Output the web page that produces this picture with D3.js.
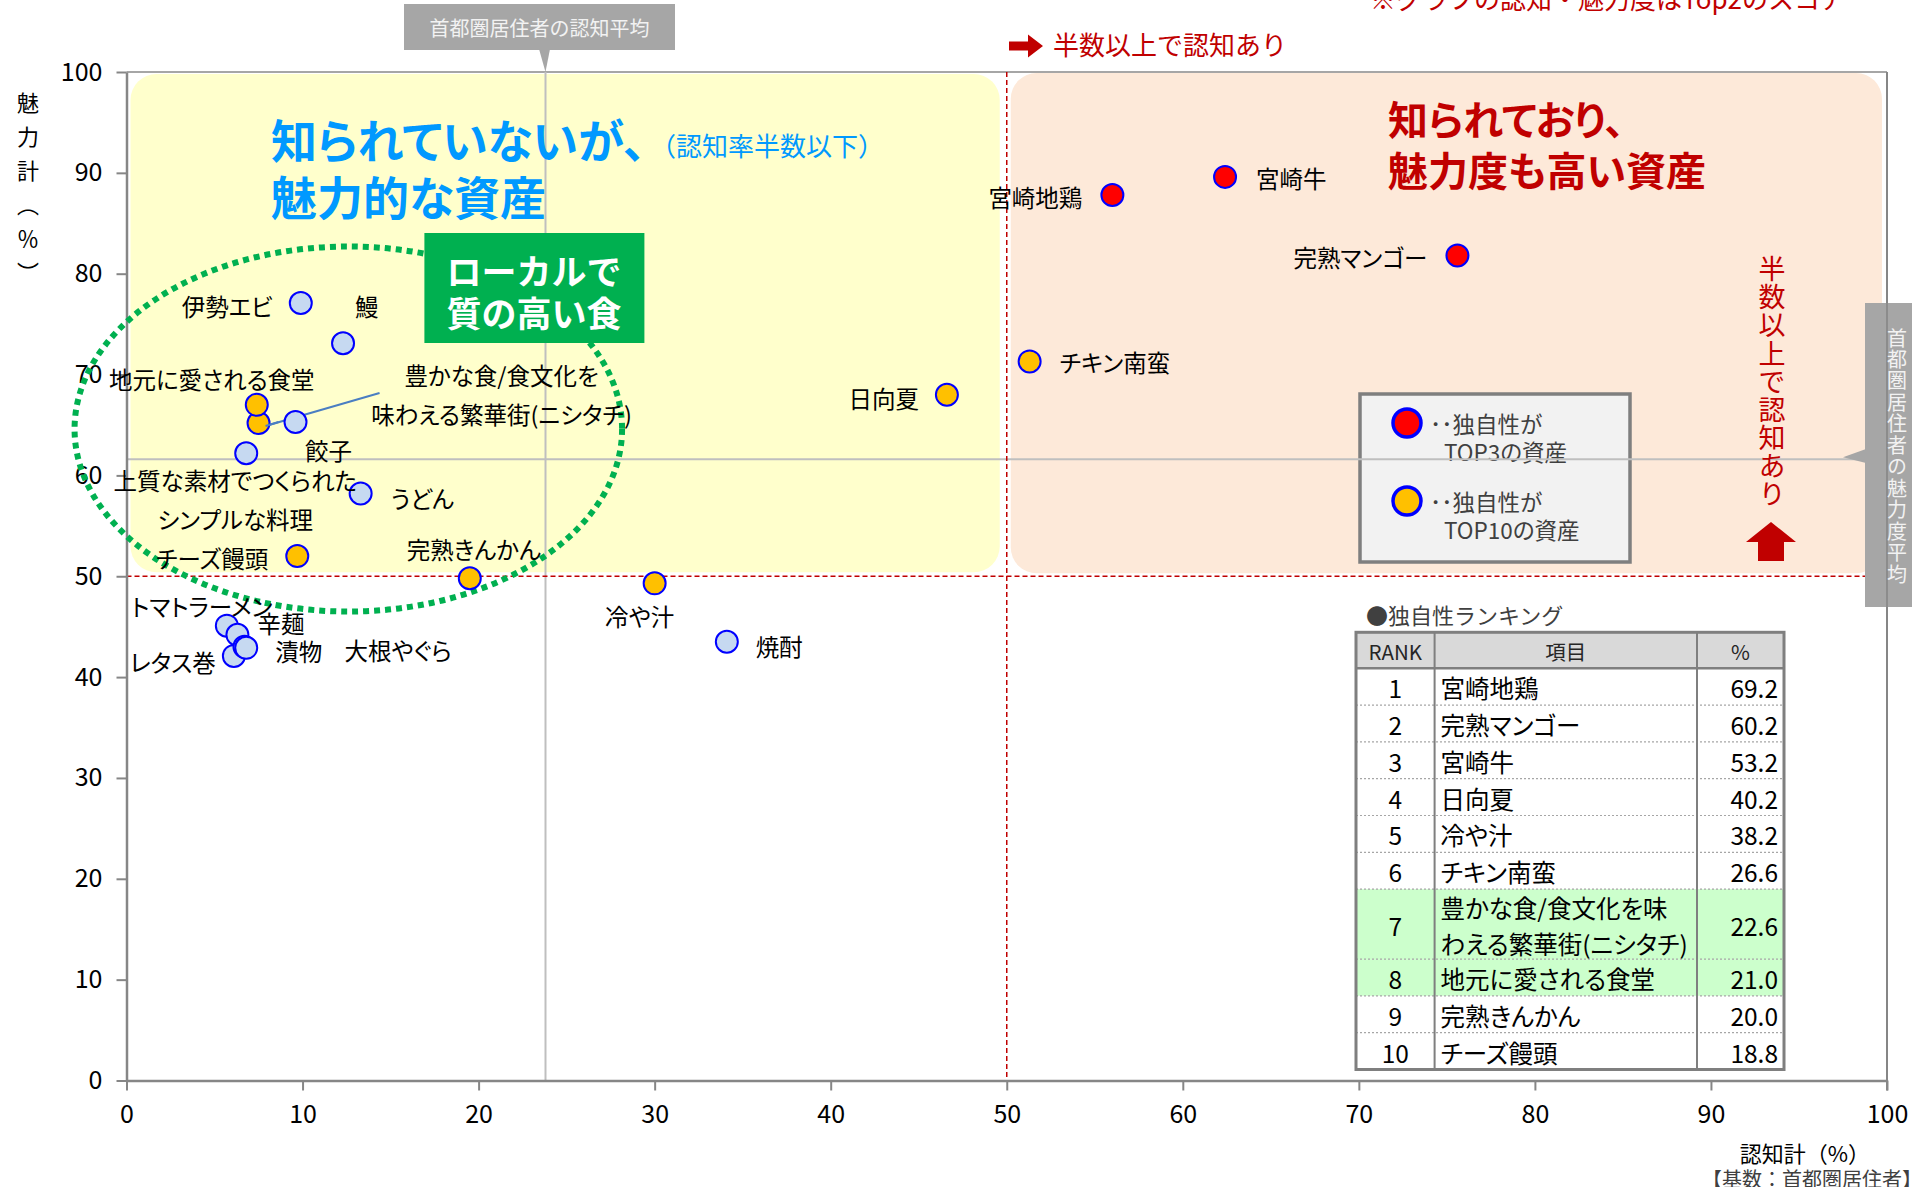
<!DOCTYPE html>
<html>
<head>
<meta charset="utf-8">
<script src="https://cdn.jsdelivr.net/npm/d3@7"></script>
<style>
    body { margin: 0; background: #fff; }
    text { font-family: "Noto Sans CJK JP", "Noto Sans", sans-serif; }
    .palt { font-feature-settings: "palt"; }
    .vert { writing-mode: vertical-rl; }
</style>
</head>
<body>
<div id="chart"></div>
<script>
// ---- data ----
const names = ["宮崎地鶏", "宮崎牛", "完熟マンゴー", "チキン南蛮", "日向夏", "冷や汁", "焼酎",
    "伊勢エビ", "鰻", "豊かな食/食文化を\n味わえる繁華街(ニシタチ)", "地元に愛される食堂", "餃子",
    "上質な素材でつくられた\nシンプルな料理", "うどん", "チーズ饅頭", "完熟きんかん",
    "トマトラーメン", "辛麺", "レタス巻", "大根やぐら", "漬物"];
const awareness = [56.0, 62.4, 75.6, 51.3, 46.6, 30.0, 34.1,
    9.9, 12.3, 7.5, 7.4, 9.6,
    6.8, 13.3, 9.7, 19.5,
    5.7, 6.3, 6.1, 6.7, 6.8];
const appeal = [87.8, 89.6, 81.8, 71.3, 68.0, 49.3, 43.5,
    77.1, 73.1, 65.2, 67.0, 65.3,
    62.2, 58.2, 52.0, 49.8,
    45.1, 44.2, 42.1, 43.0, 42.9];
const uniqueness = ["top3", "top3", "top3", "top10", "top10", "top10", "none",
    "none", "none", "top10", "top10", "none",
    "none", "none", "top10", "top10",
    "none", "none", "none", "none", "none"];

const avgAwareness = 23.8;
const avgAppeal = 61.6;
const threshold = 50;

const xTicks = [0, 10, 20, 30, 40, 50, 60, 70, 80, 90, 100];
const yTicks = [0, 10, 20, 30, 40, 50, 60, 70, 80, 90, 100];

const rankNo = [1, 2, 3, 4, 5, 6, 7, 8, 9, 10];
const rankItems = ["宮崎地鶏", "完熟マンゴー", "宮崎牛", "日向夏", "冷や汁", "チキン南蛮",
    "豊かな食/食文化を味わえる繁華街(ニシタチ)", "地元に愛される食堂", "完熟きんかん", "チーズ饅頭"];
const rankValues = [69.2, 60.2, 53.2, 40.2, 38.2, 26.6, 22.6, 21.0, 20.0, 18.8];
const rankHighlight = [7, 8];

// label placement (px offsets from the point)
const labelPos = {
    "宮崎地鶏": ["end", -30, 2], "宮崎牛": ["start", 31, 1], "完熟マンゴー": ["end", -30, 1],
    "チキン南蛮": ["start", 30, 1], "日向夏": ["end", -28, 3], "冷や汁": ["middle", -15, 33],
    "焼酎": ["start", 29, 4], "伊勢エビ": ["end", -28, 3], "鰻": ["start", 12, -37],
    "地元に愛される食堂": ["middle", -45, -26], "餃子": ["middle", 33, 28],
    "上質な素材でつくられた\nシンプルな料理": ["middle", -11, 27],
    "豊かな食/食文化を\n味わえる繁華街(ニシタチ)": ["middle", 243, -48],
    "うどん": ["start", 30, 4], "チーズ饅頭": ["end", -29, 2], "完熟きんかん": ["middle", 4, -29],
    "トマトラーメン": ["middle", -25, -20], "辛麺": ["start", 20, -12], "レタス巻": ["end", -18, 6],
    "大根やぐら": ["start", 100, 3], "漬物": ["start", 29, 3]
};

const fill = { top3: "#FF0000", top10: "#FFC000", none: "#C6D9F1" };

// ---- layout ----
const W = 1912, H = 1187;
const margin = { top: 72, right: 25, bottom: 106.5, left: 126.5 };
const width = W - margin.left - margin.right;
const height = H - margin.top - margin.bottom;

const svg = d3.select("#chart").append("svg")
    .attr("width", W).attr("height", H);
const g = svg.append("g").attr("transform", `translate(${margin.left},${margin.top})`);

const x = d3.scaleLinear().domain([0, 100]).range([0, width]);
const y = d3.scaleLinear().domain([0, 100]).range([height, 0]);

// quadrant backgrounds
g.append("rect")
    .attr("x", x(0) + 4).attr("y", y(100) + 2)
    .attr("width", x(threshold) - x(0) - 11).attr("height", y(threshold) - y(100) - 6)
    .attr("rx", 26).attr("fill", "#FFFFCC");
g.append("rect")
    .attr("x", x(threshold) + 4).attr("y", y(100) + 1)
    .attr("width", x(100) - x(threshold) - 9).attr("height", y(threshold) - y(100) - 4)
    .attr("rx", 26).attr("fill", "#FDE9D9");

// legend box (sits under the average lines)
const legend = g.append("g").attr("transform", `translate(${1360 - margin.left},${394 - margin.top})`);
legend.append("rect").attr("width", 270).attr("height", 168)
    .attr("fill", "#F2F2F2").attr("stroke", "#7F7F7F").attr("stroke-width", 3.5);
[["top3", "TOP3の資産"], ["top10", "TOP10の資産"]].forEach((d, i) => {
    const cy = 29 + i * 78;
    legend.append("circle").attr("cx", 47).attr("cy", cy).attr("r", 14)
        .attr("fill", fill[d[0]]).attr("stroke", "#0000FF").attr("stroke-width", 3.5);
    legend.append("text").attr("class", "palt").attr("x", 70).attr("y", cy).attr("dominant-baseline", "central")
        .attr("font-size", 22.5).attr("fill", "#404040").text("･･独自性が");
    legend.append("text").attr("class", "palt").attr("x", 84).attr("y", cy + 28).attr("dominant-baseline", "central")
        .attr("font-size", 22.5).attr("fill", "#404040").text(d[1]);
});

// plot frame (top)
g.append("line").attr("x1", 0).attr("x2", width).attr("y1", 0).attr("y2", 0)
    .attr("stroke", "#A6A6A6").attr("stroke-width", 2);

// average lines
g.append("line").attr("x1", x(avgAwareness)).attr("x2", x(avgAwareness))
    .attr("y1", 0).attr("y2", height).attr("stroke", "#BFBFBF").attr("stroke-width", 2);
g.append("line").attr("x1", 0).attr("x2", width)
    .attr("y1", y(avgAppeal)).attr("y2", y(avgAppeal)).attr("stroke", "#BFBFBF").attr("stroke-width", 2);

// 50% threshold lines
g.append("line").attr("x1", x(threshold)).attr("x2", x(threshold))
    .attr("y1", 0).attr("y2", height)
    .attr("stroke", "#C00000").attr("stroke-width", 1.5).attr("stroke-dasharray", "5,3");
g.append("line").attr("x1", 0).attr("x2", width)
    .attr("y1", y(threshold)).attr("y2", y(threshold))
    .attr("stroke", "#C00000").attr("stroke-width", 1.5).attr("stroke-dasharray", "5,3");

// axes
const xAxis = g.append("g").attr("transform", `translate(0,${height})`)
    .call(d3.axisBottom(x).tickValues(xTicks).tickSize(10).tickPadding(15).tickSizeOuter(0));
const yAxis = g.append("g")
    .call(d3.axisLeft(y).tickValues(yTicks).tickSize(10).tickPadding(14).tickSizeOuter(0));
[xAxis, yAxis].forEach(a => {
    a.attr("font-family", '"Noto Sans CJK JP", sans-serif').attr("font-size", 25);
    a.select(".domain").attr("stroke", "#868686").attr("stroke-width", 2.5);
    a.selectAll(".tick line").attr("stroke", "#868686").attr("stroke-width", 2);
    a.selectAll(".tick text").attr("fill", "#000");
});
g.append("line").attr("x1", width).attr("x2", width).attr("y1", 0).attr("y2", height + 10)
    .attr("stroke", "#868686").attr("stroke-width", 2);

// dotted ellipse around the local food cluster
g.append("ellipse")
    .attr("cx", x(12.6)).attr("cy", y(64.6))
    .attr("rx", x(15.55) - x(0)).attr("ry", y(0) - y(18.1))
    .attr("fill", "none").attr("stroke", "#00B050").attr("stroke-width", 6)
    .attr("stroke-dasharray", "6,5");

// green badge
g.append("rect").attr("x", 424.4 - margin.left).attr("y", 233 - margin.top)
    .attr("width", 220).attr("height", 110).attr("fill", "#00B050");
g.append("text").attr("x", 534 - margin.left).attr("y", 269 - margin.top)
    .attr("text-anchor", "middle").attr("dominant-baseline", "central")
    .attr("font-size", 35).attr("font-weight", "bold").attr("fill", "#fff").text("ローカルで");
g.append("text").attr("x", 534 - margin.left).attr("y", 311 - margin.top)
    .attr("text-anchor", "middle").attr("dominant-baseline", "central")
    .attr("font-size", 35).attr("font-weight", "bold").attr("fill", "#fff").text("質の高い食");

// leader line for ニシタチ
const nIdx = names.indexOf("豊かな食/食文化を\n味わえる繁華街(ニシタチ)");
g.append("line")
    .attr("x1", x(awareness[nIdx]) + 7).attr("y1", y(appeal[nIdx]) + 3)
    .attr("x2", x(awareness[nIdx]) + 121).attr("y2", y(appeal[nIdx]) - 30)
    .attr("stroke", "#4A7EC2").attr("stroke-width", 2);

// points
const pts = names.map((n, i) => ({ name: n, ax: awareness[i], ap: appeal[i], u: uniqueness[i] }));
g.selectAll("circle.pt").data(pts).join("circle")
    .attr("class", "pt")
    .attr("cx", d => x(d.ax)).attr("cy", d => y(d.ap)).attr("r", 11)
    .attr("fill", d => fill[d.u]).attr("stroke", "#0000FF").attr("stroke-width", 2);

// leader line end sits on top of the orange point
g.append("line")
    .attr("x1", x(awareness[nIdx]) + 7).attr("y1", y(appeal[nIdx]) + 3)
    .attr("x2", x(awareness[nIdx]) + 20).attr("y2", y(appeal[nIdx]) - 1)
    .attr("stroke", "#4A7EC2").attr("stroke-width", 2);

// point labels
pts.forEach(d => {
    const p = labelPos[d.name];
    const lines = d.name.split("\n");
    const t = g.append("text").attr("class", "palt")
        .attr("text-anchor", p[0]).attr("font-size", 23.5).attr("fill", "#000");
    lines.forEach((l, k) => {
        t.append("tspan")
            .attr("x", x(d.ax) + p[1])
            .attr("y", y(d.ap) + p[2] + k * 39)
            .attr("dominant-baseline", "central")
            .text(l);
    });
});

// quadrant titles
g.append("text").attr("class", "palt").attr("x", 271 - margin.left).attr("y", 137.5 - margin.top)
    .attr("dominant-baseline", "central").attr("font-size", 46).attr("font-weight", "bold")
    .attr("fill", "#0099FF").text("知られていないが、");
g.append("text").attr("class", "palt").attr("x", 271 - margin.left).attr("y", 195 - margin.top)
    .attr("dominant-baseline", "central").attr("font-size", 46).attr("font-weight", "bold")
    .attr("fill", "#0099FF").text("魅力的な資産");
g.append("text").attr("x", 650 - margin.left).attr("y", 144 - margin.top)
    .attr("dominant-baseline", "central").attr("font-size", 26)
    .attr("fill", "#0099FF").text("（認知率半数以下）");
g.append("text").attr("class", "palt").attr("x", 1388 - margin.left).attr("y", 118 - margin.top)
    .attr("dominant-baseline", "central").attr("font-size", 40).attr("font-weight", "bold")
    .attr("fill", "#C00000").text("知られており、");
g.append("text").attr("class", "palt").attr("x", 1388 - margin.left).attr("y", 169 - margin.top)
    .attr("dominant-baseline", "central").attr("font-size", 40).attr("font-weight", "bold")
    .attr("fill", "#C00000").text("魅力度も高い資産");

// vertical text (top of first glyph at y0)
function vText(parent, str, cx, y0, size, spacing, color) {
    parent.append("text").attr("class", "vert")
        .attr("x", cx).attr("y", y0)
        .attr("font-size", size).attr("letter-spacing", spacing)
        .attr("fill", color).text(str);
}

// half-awareness marker (top)
svg.append("path")
    .attr("d", "M1009,41.5 h19 v-7 l15,11.5 l-15,11.5 v-7 h-19 z")
    .attr("fill", "#C00000");
svg.append("text").attr("x", 1053).attr("y", 43).attr("dominant-baseline", "central")
    .attr("font-size", 26).attr("fill", "#C00000").text("半数以上で認知あり");

// half-awareness marker (right, vertical)
vText(svg, "半数以上で認知あり", 1772, 255.5, 27, 1.1, "#C00000");
svg.append("path")
    .attr("d", "M1771,522 l25,20 h-12 v19 h-26 v-19 h-12 z")
    .attr("fill", "#C00000");

// note at top right (cropped in the original)
svg.append("text").attr("x", 1370).attr("y", -3).attr("dominant-baseline", "central")
    .attr("font-size", 26).attr("fill", "#C00000").text("※グラフの認知・魅力度はTop2のスコア");

// average callouts
svg.append("rect").attr("x", 404).attr("y", 4).attr("width", 271).attr("height", 46).attr("fill", "#A6A6A6");
svg.append("path").attr("d", `M539,49 L550,49 L${margin.left + x(avgAwareness)},72 Z`).attr("fill", "#A6A6A6");
svg.append("text").attr("x", 539.5).attr("y", 27).attr("text-anchor", "middle")
    .attr("dominant-baseline", "central").attr("font-size", 20).attr("fill", "#F2F2F2")
    .text("首都圏居住者の認知平均");

svg.append("rect").attr("x", 1865).attr("y", 303).attr("width", 47).attr("height", 304).attr("fill", "#A6A6A6");
svg.append("path").attr("d", `M1866,449 L1866,463 L1843,${margin.top + y(avgAppeal) - 2} Z`).attr("fill", "#A6A6A6");
svg.append("line").attr("x1", margin.left + width).attr("x2", margin.left + width)
    .attr("y1", 303).attr("y2", 607).attr("stroke", "#8C8C8C").attr("stroke-width", 2);
vText(svg, "首都圏居住者の魅力度平均", 1897, 328, 20, 1.45, "#F2F2F2");

// axis titles
vText(svg, "魅力計（％）", 28, 92, 22, 12, "#000");
svg.append("text").attr("x", 1870).attr("y", 1152).attr("text-anchor", "end")
    .attr("dominant-baseline", "central").attr("font-size", 22).attr("fill", "#000").text("認知計（%）");
svg.append("text").attr("x", 1702).attr("y", 1178).attr("dominant-baseline", "central")
    .attr("font-size", 20).attr("fill", "#404040").text("【基数：首都圏居住者】");

// ---- uniqueness ranking table ----
svg.append("text").attr("x", 1366).attr("y", 614).attr("dominant-baseline", "central")
    .attr("font-size", 22).attr("fill", "#404040").text("●独自性ランキング");

const tX = [1356, 1434.6, 1697, 1784];
const tTop = 632.3, headH = 36, rowH = 36.8, extraH = 33.2, lineGap = 36;
const tFont = 24.5;
const tbl = svg.append("g");

// balanced wrap of item names to the column width
const meas = svg.append("text").attr("class", "palt").attr("font-size", tFont).attr("visibility", "hidden");
function textW(s) { meas.text(s); return meas.node().getComputedTextLength(); }
function wrap(str, maxW) {
    const n = Math.ceil(textW(str) / maxW);
    if (n <= 1) return [str];
    const target = textW(str) / n;
    const out = [];
    let cur = "";
    Array.from(str).forEach(ch => {
        if (cur && textW(cur + ch) > target && out.length < n - 1) { out.push(cur); cur = ch; }
        else cur += ch;
    });
    out.push(cur);
    return out;
}
const rows = rankNo.map((r, i) => ({ r, item: wrap(rankItems[i], tX[2] - tX[1] - 10), v: rankValues[i] }));
meas.remove();
let yy = tTop + headH;
rows.forEach(d => { d.y0 = yy; d.h = rowH + (d.item.length - 1) * extraH; yy += d.h; });
const tBottom = yy;

tbl.append("rect").attr("x", tX[0]).attr("y", tTop).attr("width", tX[3] - tX[0]).attr("height", headH)
    .attr("fill", "#D9D9D9");
tbl.selectAll("rect.row").data(rows).join("rect").attr("class", "row")
    .attr("x", tX[0]).attr("y", d => d.y0).attr("width", tX[3] - tX[0]).attr("height", d => d.h)
    .attr("fill", d => rankHighlight.includes(d.r) ? "#CCFFCC" : "#fff");
tbl.selectAll("line.sep").data(rows.slice(1)).join("line").attr("class", "sep")
    .attr("x1", tX[0]).attr("x2", tX[3]).attr("y1", d => d.y0).attr("y2", d => d.y0)
    .attr("stroke", "#A6A6A6").attr("stroke-width", 1.2).attr("stroke-dasharray", "2,2");
tbl.append("line").attr("x1", tX[0]).attr("x2", tX[3]).attr("y1", tTop + headH).attr("y2", tTop + headH)
    .attr("stroke", "#7F7F7F").attr("stroke-width", 2.5);
[tX[1], tX[2]].forEach(cx => tbl.append("line").attr("x1", cx).attr("x2", cx)
    .attr("y1", tTop).attr("y2", tBottom).attr("stroke", "#7F7F7F").attr("stroke-width", 2));
tbl.append("rect").attr("x", tX[0]).attr("y", tTop).attr("width", tX[3] - tX[0]).attr("height", tBottom - tTop)
    .attr("fill", "none").attr("stroke", "#7F7F7F").attr("stroke-width", 3);

["RANK", "項目", "%"].forEach((h, i) => {
    tbl.append("text").attr("x", (tX[i] + tX[i + 1]) / 2).attr("y", tTop + headH / 2 + 1)
        .attr("text-anchor", "middle").attr("dominant-baseline", "central")
        .attr("font-size", 20.5).attr("fill", "#262626").text(h);
});
rows.forEach(d => {
    const cy = d.y0 + d.h / 2 + 1;
    tbl.append("text").attr("x", (tX[0] + tX[1]) / 2).attr("y", cy)
        .attr("text-anchor", "middle").attr("dominant-baseline", "central")
        .attr("font-size", tFont).attr("fill", "#000").text(d.r);
    const t = tbl.append("text").attr("class", "palt")
        .attr("font-size", tFont).attr("fill", "#000");
    d.item.forEach((l, k) => {
        t.append("tspan").attr("x", tX[1] + 6)
            .attr("y", cy + (k - (d.item.length - 1) / 2) * lineGap)
            .attr("dominant-baseline", "central").text(l);
    });
    tbl.append("text").attr("x", tX[3] - 6).attr("y", cy)
        .attr("text-anchor", "end").attr("dominant-baseline", "central")
        .attr("font-size", tFont).attr("fill", "#000").text(d3.format(".1f")(d.v));
});
</script>
</body>
</html>
